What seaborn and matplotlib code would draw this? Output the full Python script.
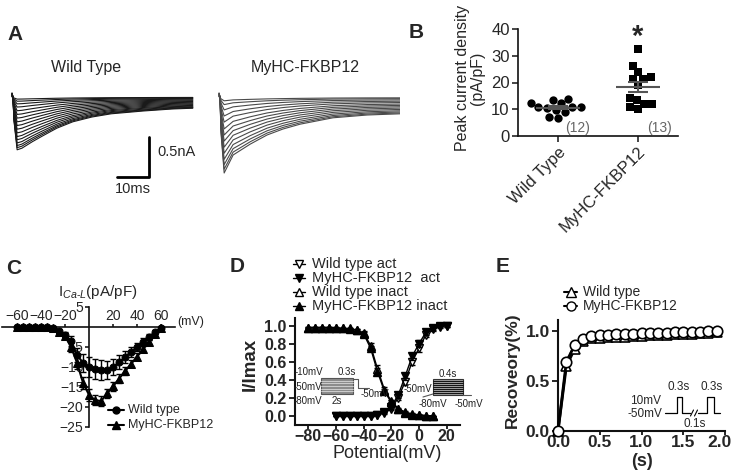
import numpy as np
import pandas as pd
import matplotlib
matplotlib.use("Agg")
import matplotlib.pyplot as plt
from matplotlib.lines import Line2D
from matplotlib.patches import Rectangle
from matplotlib.transforms import ScaledTranslation
import seaborn as sns

# =========================
# Data
# =========================
# A: largest sweep of each family (ms, nA) + relative size of every sweep
WT_T = [0, 0.3, 0.6, 1.6, 3.1, 6.3, 9.4, 14, 19, 25, 31, 41, 50, 56.5]
WT_I = [0.05, 0, -0.29, -0.66, -0.64, -0.56, -0.49, -0.39, -0.31, -0.25, -0.21, -0.175, -0.15, -0.14]
WT_SCALES = [0.04, 0.08, 0.13, 0.19, 0.26, 0.33, 0.4, 0.47, 0.54, 0.61, 0.68, 0.75, 0.81, 0.87, 0.92, 0.96, 1.0]
TG_T = [0, 0.3, 0.6, 1.6, 4.4, 9.7, 15, 20, 25.3, 35.6, 46.3, 56.6]
TG_I = [0.05, 0, -0.44, -0.95, -0.725, -0.59, -0.475, -0.4, -0.34, -0.26, -0.225, -0.21]
TG_SCALES = [0.05, 0.1, 0.17, 0.25, 0.33, 0.42, 0.5, 0.58, 0.66, 0.74, 0.82, 0.89, 0.95, 1.0]
TG_SHIFT = 64.7  # ms, second trace family drawn to the right

# B: peak current density (pA/pF)
GROUPS = ["Wild Type", "MyHC-FKBP12"]
WT_B = [13.4, 12.4, 14.0, 12.5, 9.9, 8.8, 10.7, 10.7, 10.7, 10.3, 6.9, 7.1]
TG_B = [32.7, 26.0, 23.8, 21.9, 21.2, 21.3, 19.1, 14.3, 13.4, 11.9, 11.9, 10.0, 10.9]

# C: I-V relation
C_V = list(range(-60, 65, 5))
WT_C = [0, 0, 0, 0, 0, -0.1, -0.3, -1.0, -2.0, -3.5, -7.0, -9.0, -10.0, -10.5, -10.8, -10.8,
        -10.0, -8.8, -7.5, -6.2, -5.0, -3.7, -2.5, -1.2, -0.3]
WT_C_SEM = [0, 0, 0, 0, 0, 0.1, 0.2, 0.4, 0.8, 1.2, 1.8, 2.2, 2.5, 2.5, 2.5, 2.3,
            2.0, 1.8, 1.5, 1.3, 1.1, 0.9, 0.7, 0.5, 0.3]
TG_C = [0, 0, 0, 0, 0, -0.1, -0.3, -1.2, -2.3, -5.0, -9.0, -14.0, -17.0, -18.3, -18.5, -16.6,
        -14.8, -12.9, -11.0, -9.2, -7.4, -5.5, -3.7, -1.8, -0.3]
TG_C_SEM = [0, 0, 0, 0, 0, 0.1, 0.2, 0.4, 0.8, 1.2, 1.5, 1.5, 1.4, 1.3, 1.2, 1.2,
            1.1, 1.1, 1.0, 0.9, 0.8, 0.7, 0.5, 0.4, 0.3]

# D: steady-state activation / inactivation
ACT_V = list(range(-60, 25, 5))
WT_ACT = [0, 0, 0, 0, 0, 0, 0.01, 0.03, 0.08, 0.2, 0.38, 0.6, 0.75, 0.9, 0.96, 0.99, 1.0]
TG_ACT = [0, 0, 0, 0, 0, 0, 0.01, 0.04, 0.1, 0.23, 0.44, 0.66, 0.8, 0.93, 0.97, 1.0, 1.0]
ACT_SEM = [0, 0, 0, 0, 0, 0, 0.005, 0.01, 0.02, 0.03, 0.04, 0.04, 0.04, 0.03, 0.02, 0.01, 0.01]
INACT_V = list(range(-80, 15, 5))
WT_INACT = [0.98, 0.98, 0.98, 0.98, 0.97, 0.97, 0.96, 0.95, 0.92, 0.78, 0.52, 0.29, 0.16,
            0.08, 0.04, 0.02, 0.01, 0, 0]
TG_INACT = [0.98, 0.98, 0.98, 0.98, 0.98, 0.97, 0.97, 0.95, 0.91, 0.75, 0.49, 0.27, 0.15,
            0.07, 0.03, 0.01, 0.01, 0, 0]
INACT_SEM = [0.01, 0.01, 0.01, 0.01, 0.01, 0.01, 0.01, 0.01, 0.02, 0.03, 0.04, 0.03, 0.02,
             0.01, 0.01, 0.005, 0, 0, 0]

# E: recovery from inactivation
E_T = [round(0.1 * k, 1) for k in range(20)]
WT_REC = [0, 0.645, 0.82, 0.9, 0.925, 0.93, 0.935, 0.94, 0.94, 0.945, 0.95, 0.955, 0.955,
          0.96, 0.965, 0.965, 0.97, 0.975, 0.98, 0.985]
TG_REC = [0, 0.69, 0.855, 0.92, 0.945, 0.955, 0.96, 0.965, 0.965, 0.97, 0.975, 0.975, 0.98,
          0.98, 0.985, 0.985, 0.99, 0.99, 0.995, 0.995]

# =========================
# Style
# =========================
sns.set_theme(style="ticks")
plt.rcParams["font.family"] = ["Liberation Sans", "DejaVu Sans"]
plt.rcParams["mathtext.fontset"] = "custom"
plt.rcParams["mathtext.rm"] = "Liberation Sans"
plt.rcParams["mathtext.it"] = "Liberation Sans:italic"
plt.rcParams["axes.linewidth"] = 1.2
plt.rcParams["axes.edgecolor"] = "#111111"

W, H = 734, 476
fig = plt.figure(figsize=(W / 100, H / 100), dpi=100)


def box(l, t, r, b):
    return [l / W, 1 - b / H, (r - l) / W, (b - t) / H]


def ftext(x, y, s, **kw):
    kw.setdefault("ha", "center")
    kw.setdefault("va", "center")
    fig.text(x / W, 1 - y / H, s, **kw)


def fline(xs, ys, **kw):
    fig.add_artist(Line2D([x / W for x in xs], [1 - y / H for y in ys],
                          transform=fig.transFigure, **kw))


def legend_row(x0, x1, y, text, fs, tx, **kw):
    fline([x0, (x0 + x1) / 2, x1], [y, y, y], markevery=[1], color="black", **kw)
    ftext(tx, y, text, ha="left", fontsize=fs)


# panel letters
for lab, (x, y) in {"A": (15, 35), "B": (416, 33), "C": (14, 268),
                    "D": (237, 267), "E": (503, 267)}.items():
    ftext(x, y, lab, fontsize=15, fontweight="bold")

# =========================
# A: current traces
# =========================
axA = fig.add_axes(box(0, 60, 400, 200))
axA.set_axis_off()
rows = []
for k, s in enumerate(WT_SCALES):
    for t, i in zip(WT_T, WT_I):
        rows.append({"fam": "wt", "sweep": k, "t": t, "I": s * i})
for k, s in enumerate(TG_SCALES):
    for t, i in zip(TG_T, TG_I):
        rows.append({"fam": "tg", "sweep": k, "t": t + TG_SHIFT, "I": s * i})
df_a = pd.DataFrame(rows)
sns.lineplot(data=df_a[df_a.fam == "wt"], x="t", y="I", units="sweep", estimator=None,
             color="#1a1a1a", lw=0.8, ax=axA, legend=False)
sns.lineplot(data=df_a[df_a.fam == "tg"], x="t", y="I", units="sweep", estimator=None,
             color="#4a4a4a", lw=0.8, ax=axA, legend=False)
axA.set_xlim(-12 / 3.2, 388 / 3.2)
axA.set_ylim(-103 / 80, 37 / 80)
axA.plot([32.8, 42.8, 42.8], [-1.0, -1.0, -0.5], color="black", lw=2)
ftext(86, 68, "Wild Type", fontsize=11.5)
ftext(305, 68, "MyHC-FKBP12", fontsize=11.5)
ftext(157, 152, "0.5nA", ha="left", fontsize=10.5)
ftext(133, 189, "10ms", fontsize=10.5)

# =========================
# B: peak current density
# =========================
axB = fig.add_axes(box(518, 29, 678, 136))
df_b = pd.DataFrame({"group": [GROUPS[0]] * len(WT_B) + [GROUPS[1]] * len(TG_B),
                     "density": WT_B + TG_B})
sns.swarmplot(data=df_b[df_b.group == GROUPS[0]], x="group", y="density", order=GROUPS,
              marker="o", color="black", size=6, ax=axB)
sns.swarmplot(data=df_b[df_b.group == GROUPS[1]], x="group", y="density", order=GROUPS,
              marker="s", color="black", size=5.5, ax=axB)
for i, vals in enumerate([WT_B, TG_B]):
    m = np.mean(vals)
    sem = np.std(vals, ddof=1) / np.sqrt(len(vals))
    axB.hlines(m, i - 0.27, i + 0.27, color="#555555", lw=1.5, zorder=4)
    axB.errorbar(i, m, yerr=sem, fmt="none", ecolor="#555555", elinewidth=1.5,
                 capsize=7, capthick=1.5, zorder=4)
axB.set_xlim(-0.5, 1.5)
axB.set_ylim(0, 40)
axB.set_yticks([0, 10, 20, 30, 40])
axB.tick_params(labelsize=12, length=4, width=1.2, pad=2)
axB.set_xticklabels(GROUPS, rotation=45, ha="right", rotation_mode="anchor", fontsize=12)
axB.set_xlabel("")
axB.set_ylabel("")
sns.despine(ax=axB)
ftext(470, 78, "Peak current density\n(pA/pF)", fontsize=11.5, rotation=90, linespacing=1.0)
axB.text(0.24, 3, "(12)", color="#666666", fontsize=10, ha="center", va="center")
axB.text(1.275, 3, "(13)", color="#666666", fontsize=10, ha="center", va="center")
ftext(638, 37, "*", fontsize=21, fontweight="bold")

# =========================
# C: I-V curve
# =========================
axC = fig.add_axes(box(2, 307, 175, 427))
axC.errorbar(C_V, WT_C, yerr=WT_C_SEM, fmt="none", ecolor="black", elinewidth=1,
             capsize=2.5, zorder=3)
axC.errorbar(C_V, TG_C, yerr=TG_C_SEM, fmt="none", ecolor="black", elinewidth=1,
             capsize=2.5, zorder=3)
sns.lineplot(x=C_V, y=WT_C, marker="o", markersize=5, color="black", mec="black",
             lw=1.5, ax=axC, zorder=3)
sns.lineplot(x=C_V, y=TG_C, marker="^", markersize=5.5, color="black", mec="black",
             lw=1.5, ax=axC, zorder=3)
axC.set_xlim(-72.5, 71.5)
axC.set_ylim(-25, 5)
axC.spines["left"].set_position(("data", 0))
axC.spines["top"].set_position(("data", 0))
axC.spines["bottom"].set_visible(False)
axC.spines["right"].set_visible(False)
axC.xaxis.set_ticks_position("top")
axC.set_xticks([-60, -40, -20, 20, 40, 60])
axC.set_yticks([5, -5, -10, -15, -20, -25])
axC.tick_params(axis="x", labelsize=10, length=2, pad=1)
axC.tick_params(axis="y", labelsize=10, length=3, pad=1)
ftext(98, 292, r"I$_{\mathit{Ca}\text{-}\mathit{L}}$(pA/pF)", fontsize=11)
ftext(177, 322, "(mV)", ha="left", fontsize=9)
legend_row(108, 124, 410, "Wild type", 9, 128, marker="o", ms=5, lw=1.5)
legend_row(108, 124, 425, "MyHC-FKBP12", 9, 128, marker="^", ms=5.5, lw=1.5)

# =========================
# D: activation / inactivation
# =========================
axD = fig.add_axes(box(295, 318, 460, 425))
series_d = [
    (ACT_V, WT_ACT, ACT_SEM, "v", "white"),
    (ACT_V, TG_ACT, ACT_SEM, "v", "black"),
    (INACT_V, WT_INACT, INACT_SEM, "^", "white"),
    (INACT_V, TG_INACT, INACT_SEM, "^", "black"),
]
for xs, ys, es, mk, fc in series_d:
    axD.errorbar(xs, ys, yerr=es, fmt="none", ecolor="black", elinewidth=0.8, capsize=2, zorder=3)
    sns.lineplot(x=xs, y=ys, marker=mk, markersize=5.5, color="black", mfc=fc, mec="black",
                 mew=1, lw=1, ax=axD, zorder=3)
axD.set_xlim(-89.6, 29.6)
axD.set_ylim(-0.103, 1.086)
axD.set_xticks([-80, -60, -40, -20, 0, 20])
axD.set_yticks([0, 0.2, 0.4, 0.6, 0.8, 1.0])
axD.set_yticklabels([f"{v:.1f}" for v in [0, 0.2, 0.4, 0.6, 0.8, 1.0]])
axD.tick_params(labelsize=11.5, length=4, width=1.4, pad=2)
axD.tick_params(axis="x", length=3, pad=0)
for lab in axD.get_xticklabels() + axD.get_yticklabels():
    lab.set_fontweight("bold")
for sp in ["left", "bottom"]:
    axD.spines[sp].set_linewidth(1.5)
sns.despine(ax=axD)
ftext(250, 364, "I/Imax", fontsize=13.5, fontweight="bold", rotation=90)
ftext(387, 454, "Potential(mV)", fontsize=13)
d_labels = ["Wild type act", "MyHC-FKBP12  act", "Wild type inact", "MyHC-FKBP12 inact"]
for (xs, ys, es, mk, fc), lab, y in zip(series_d, d_labels, [264, 278, 292, 306]):
    legend_row(293, 305, y, lab, 10.5, 312, marker=mk, ms=5.5, mfc=fc, mec="black", lw=1)

# protocol insets in D
fig.add_artist(Rectangle((321 / W, 1 - 394 / H), 32 / W, 16 / H, transform=fig.transFigure,
                         facecolor="#8c8c8c", edgecolor="#555555", lw=0.8))
for k in range(1, 6):
    yy = 378 + k * 16 / 6
    fline([321, 353], [yy, yy], color="#d8d8d8", lw=0.6)
fline([353, 358, 358, 369], [379, 379, 388, 388], color="#555555", lw=0.8)
for x, y, s in [(309, 372, "-10mV"), (347, 372, "0.3s"), (308, 387, "-50mV"),
                (308, 401, "-80mV"), (337, 401, "2s"), (375, 394, "-50mV")]:
    ftext(x, y, s, fontsize=7, color="#222222")
fig.add_artist(Rectangle((433 / W, 1 - 395 / H), 30 / W, 16 / H, transform=fig.transFigure,
                         facecolor="#9a9a9a", edgecolor="#333333", lw=0.8))
for k in range(1, 8):
    yy = 379 + k * 16 / 8
    fline([433, 463], [yy, yy], color="#111111", lw=0.7)
fline([423, 433], [397, 394], color="#555555", lw=0.8)
fline([463, 471], [395, 395], color="#555555", lw=0.8)
for x, y, s in [(448, 374, "0.4s"), (418, 389, "-50mV"), (433, 404, "-80mV"), (469, 404, "-50mV")]:
    ftext(x, y, s, fontsize=7, color="#222222")

# =========================
# E: recovery
# =========================
axE = fig.add_axes(box(558, 320, 725, 431))
sns.lineplot(x=E_T, y=WT_REC, marker="^", markersize=7.5, color="black", mfc="white",
             mec="black", mew=1.2, lw=2, ax=axE, zorder=3, clip_on=False)
sns.lineplot(x=E_T, y=TG_REC, marker="o", markersize=7.5, color="black", mfc="white",
             mec="black", mew=1.2, lw=2, ax=axE, zorder=3, clip_on=False)
axE.set_xlim(0, 2.0)
axE.set_ylim(0, 1.106)
axE.set_xticks([0, 0.5, 1.0, 1.5, 2.0])
axE.set_xticklabels(["0.0", "0.5", "1.0", "1.5", "2.0"])
axE.set_yticks([0, 0.5, 1.0])
axE.set_yticklabels(["0.0", "0.5", "1.0"])
axE.tick_params(labelsize=12.5, length=4, width=1.4, pad=2)
axE.tick_params(axis="x", length=3, pad=0)
for lab in axE.get_xticklabels() + axE.get_yticklabels():
    lab.set_fontweight("bold")
# keep the last tick label inside the canvas
last = axE.get_xticklabels()[-1]
last.set_transform(last.get_transform() + ScaledTranslation(-4 / 72, 0, fig.dpi_scale_trans))
for sp in ["left", "bottom"]:
    axE.spines[sp].set_linewidth(1.5)
sns.despine(ax=axE)
ftext(512, 370, "Recoveory(%)", fontsize=12.5, fontweight="bold", rotation=90)
ftext(642, 461, "(s)", fontsize=13, fontweight="bold")
legend_row(564, 577, 292, "Wild type", 10, 583, marker="^", ms=6.5, mfc="white", mec="black", lw=1.5)
legend_row(564, 577, 306, "MyHC-FKBP12", 10, 583, marker="o", ms=6.5, mfc="white", mec="black", lw=1.5)

# pulse protocol inset in E
fline([665, 676.7, 676.7, 681.7, 681.7, 690], [413, 413, 397, 397, 413, 413], color="black", lw=0.9)
fline([698, 706.7, 706.7, 714, 714, 720], [413, 413, 397, 397, 413, 413], color="black", lw=0.9)
fline([690.5, 693.5], [416, 410], color="black", lw=0.8)
fline([694.5, 697.5], [416, 410], color="black", lw=0.8)
for x, y, s in [(646, 401, "10mV"), (645, 414, "-50mV"), (679, 387, "0.3s"),
                (712, 387, "0.3s"), (695, 424, "0.1s")]:
    ftext(x, y, s, fontsize=8.5)

fig.savefig("out.png", dpi=100)
